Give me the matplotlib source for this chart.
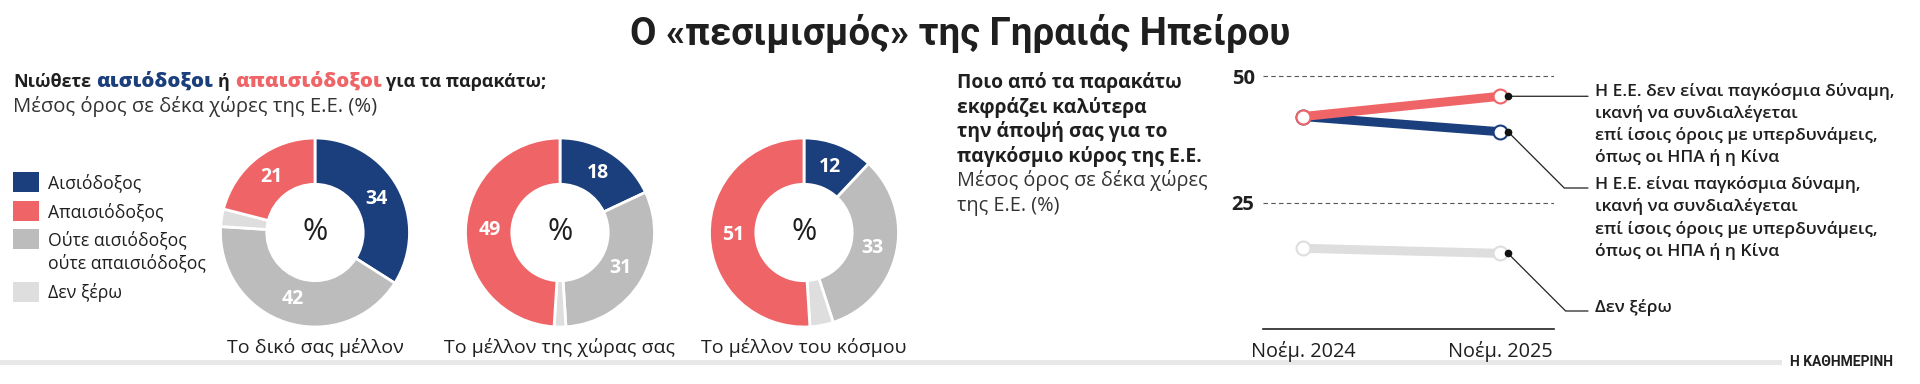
import matplotlib
matplotlib.use('Agg')
import matplotlib.pyplot as plt
import numpy as np
from matplotlib.patches import Rectangle
from matplotlib.transforms import offset_copy

plt.rcParams['font.family'] = ['Open Sans', 'DejaVu Sans']

# --- data ---
title = 'Ο «πεσιμισμός» της Γηραιάς Ηπείρου'
donut_titles = ['Το δικό σας μέλλον', 'Το μέλλον της χώρας σας', 'Το μέλλον του κόσμου']
optimistic = [34, 18, 12]
neither = [42, 31, 33]
dont_know = [3, 2, 4]
pessimistic = [21, 49, 51]

legend_labels = ['Αισιόδοξος', 'Απαισιόδοξος', 'Ούτε αισιόδοξος\nούτε απαισιόδοξος', 'Δεν ξέρω']

periods = ['Νοέμ. 2024', 'Νοέμ. 2025']
not_power = [42, 46]
is_power = [42, 39]
dont_know_line = [16, 15]

line_labels = [
    ['Η Ε.Ε. δεν είναι παγκόσμια δύναμη,', 'ικανή να συνδιαλέγεται',
     'επί ίσοις όροις με υπερδυνάμεις,', 'όπως οι ΗΠΑ ή η Κίνα'],
    ['Η Ε.Ε. είναι παγκόσμια δύναμη,', 'ικανή να συνδιαλέγεται',
     'επί ίσοις όροις με υπερδυνάμεις,', 'όπως οι ΗΠΑ ή η Κίνα'],
    ['Δεν ξέρω'],
]

BLUE = '#1b3e7c'
RED = '#ef6567'
GRAY = '#bcbcbc'
LIGHT = '#dedede'
DARK = '#1f1f1f'
NARROW = ['Liberation Sans Narrow', 'Roboto', 'DejaVu Sans']

W, H = 1920, 384
fig = plt.figure(figsize=(19.2, 3.84), dpi=100)


def px_axes(x0, y0, w, h):
    # x0, y0 = top-left corner in pixels
    return fig.add_axes([x0 / W, 1 - (y0 + h) / H, w / W, h / H])


overlay = fig.add_axes([0, 0, 1, 1])
overlay.set_xlim(0, W)
overlay.set_ylim(H, 0)
overlay.axis('off')
renderer = fig.canvas.get_renderer()


def fit_size(s, width_px, **kw):
    # font size that makes s about width_px wide (widths)
    t = overlay.text(0, 0, s, fontsize=10, **kw)
    w = t.get_window_extent(renderer).width
    t.remove()
    return 10 * width_px / w


def text_lines(x, y0, lines, dy, **kw):
    for i, s in enumerate(lines):
        overlay.text(x, y0 + i * dy, s, va='baseline', **kw)


fs_title = fit_size(title, 662, fontweight='bold', family=NARROW)
fs_sub_b = fit_size('Νιώθετε', 78, fontweight='bold')
fs_sub_hi = fit_size('απαισιόδοξοι', 147, fontweight='heavy')
fs_sub = fit_size('Μέσος όρος σε δέκα χώρες της Ε.Ε. (%)', 364)
fs_leg = fit_size('ούτε απαισιόδοξος', 157)
fs_dt = fit_size(donut_titles[0], 175)
fs_q_b = fit_size('παγκόσμιο κύρος της Ε.Ε.', 244, fontweight='bold')
fs_q = fit_size('Μέσος όρος σε δέκα χώρες', 250)
fs_lab = fit_size(line_labels[0][0], 301, fontweight='semibold')
fs_tick = fit_size(periods[0], 104)

# title
overlay.text(W / 2, 45, title, ha='center', va='baseline',
             fontsize=fs_title, fontweight='bold', family=NARROW, color=DARK)

# left subtitle: the two key words are set larger and heavier
pieces = [('Νιώθετε', DARK, fs_sub_b, 'bold'), ('αισιόδοξοι', BLUE, fs_sub_hi, 'heavy'),
          ('ή', DARK, fs_sub_b, 'bold'), ('απαισιόδοξοι', RED, fs_sub_hi, 'heavy'),
          ('για τα παρακάτω;', DARK, fs_sub_b, 'bold')]
x = 13
for s, c, fs, wt in pieces:
    t = overlay.text(x, 87, s, fontsize=fs, fontweight=wt, color=c, va='baseline')
    x += t.get_window_extent(renderer).width + 5
overlay.text(13, 112, 'Μέσος όρος σε δέκα χώρες της Ε.Ε. (%)', fontsize=fs_sub,
             color='#333333', va='baseline')

# legend
legend_colors = [BLUE, RED, GRAY, LIGHT]
row_tops = [172, 201, 229, 282]
for top, lab, col in zip(row_tops, legend_labels, legend_colors):
    overlay.add_patch(Rectangle((13, top), 26, 20, color=col, lw=0))
    text_lines(48, top + 16.5, lab.split('\n'), 22.5, fontsize=fs_leg, color=DARK)

# donuts
centers = [315, 560, 804]
cy = 232.5
R = 94.5
for i, cx in enumerate(centers):
    ax = px_axes(cx - 100, cy - 100, 200, 200)
    vals = [optimistic[i], neither[i], dont_know[i], pessimistic[i]]
    cols = [BLUE, GRAY, LIGHT, RED]
    ax.pie(vals, colors=cols, startangle=90, counterclock=False, radius=1,
           wedgeprops=dict(width=0.49, edgecolor='white', linewidth=2))
    lim = 100 / R
    ax.set_xlim(-lim, lim)
    ax.set_ylim(-lim, lim)
    ax.set_aspect('equal')
    total = sum(vals)
    cum = 0
    for v, c in zip(vals, cols):
        if c != LIGHT:
            ang = np.deg2rad(90 - 360 * (cum + v / 2) / total)
            ax.text(0.745 * np.cos(ang), 0.745 * np.sin(ang), str(v), ha='center',
                    va='center', color='white', fontsize=14, fontweight='bold')
        cum += v
    ax.text(0, 0, '%', ha='center', va='center', fontsize=22, color=DARK)
    overlay.text(cx, 353, donut_titles[i], ha='center', va='baseline', fontsize=fs_dt,
                 color=DARK)

# right question text
text_lines(957, 88, ['Ποιο από τα παρακάτω', 'εκφράζει καλύτερα',
                     'την άποψή σας για το', 'παγκόσμιο κύρος της Ε.Ε.'],
           24.6, fontsize=fs_q_b, fontweight='bold', color=DARK)
text_lines(957, 186, ['Μέσος όρος σε δέκα χώρες', 'της Ε.Ε. (%)'], 24.6,
           fontsize=fs_q, color='#333333')

# slope chart
y_bottom, px_per = 329.4, 5.068
ymax = 52
lax = px_axes(1263, y_bottom - ymax * px_per, 291, ymax * px_per)
lax.set_xlim(-40 / 197, 251 / 197)
lax.set_ylim(0, ymax)
for side in ['top', 'right', 'left']:
    lax.spines[side].set_visible(False)
lax.spines['bottom'].set_color('#222222')
lax.spines['bottom'].set_linewidth(1.2)
lax.set_yticks([25, 50])
lax.set_yticklabels(['25', '50'], fontsize=14.5, fontweight='bold', color=DARK)
lax.set_xticks([0, 1])
lax.set_xticklabels(periods, fontsize=fs_tick, color=DARK)
lax.tick_params(axis='y', length=0, pad=6)
lax.tick_params(axis='x', length=0, pad=8)
lax.yaxis.grid(True, color='#555555', lw=0.8, ls=(0, (4, 3)))
lax.set_axisbelow(True)

series = [(dont_know_line, LIGHT), (is_power, BLUE), (not_power, RED)]
dot_tr = offset_copy(lax.transData, fig=fig, x=8, y=0, units='dots')
for z, (vals, col) in enumerate(series):
    lax.plot([0, 1], vals, color=col, lw=6.5, solid_capstyle='butt', zorder=3 + z,
             clip_on=False)
    lax.plot([0, 1], vals, 'o', ms=10, mfc='white', mec=col, mew=1.5, zorder=3 + z,
             clip_on=False)
    lax.plot([1], [vals[1]], 'o', color='#111111', ms=4.5, transform=dot_tr, zorder=8,
             clip_on=False)

arrow_kw = dict(arrowstyle='-', color='#222222', lw=0.9, shrinkA=0, shrinkB=0)
# top label: straight leader
lax.annotate('', xy=(1, not_power[1]), xycoords=dot_tr, xytext=(80, 0),
             textcoords='offset pixels', arrowprops=arrow_kw)
for vals, ly in [(is_power, 188), (dont_know_line, 311)]:
    lax.annotate('', xy=(1, vals[1]), xycoords=dot_tr, xytext=(1588, H - ly),
                 textcoords='figure pixels',
                 arrowprops=dict(connectionstyle='angle,angleA=0,angleB=-45,rad=0',
                                 **arrow_kw))

for lines, base in zip(line_labels, [95.5, 189, 312]):
    text_lines(1595, base, lines, 22.3, fontsize=fs_lab, fontweight='semibold', color=DARK)

# footer
overlay.add_patch(Rectangle((0, 359.5), 1782, 5, color='#e8e8e8', lw=0))
overlay.text(1893, 366, 'Η ΚΑΘΗΜΕΡΙΝΗ', ha='right', va='baseline', fontsize=10,
             fontweight='bold', family=NARROW, color=DARK)

fig.savefig('out.png', dpi=100)
